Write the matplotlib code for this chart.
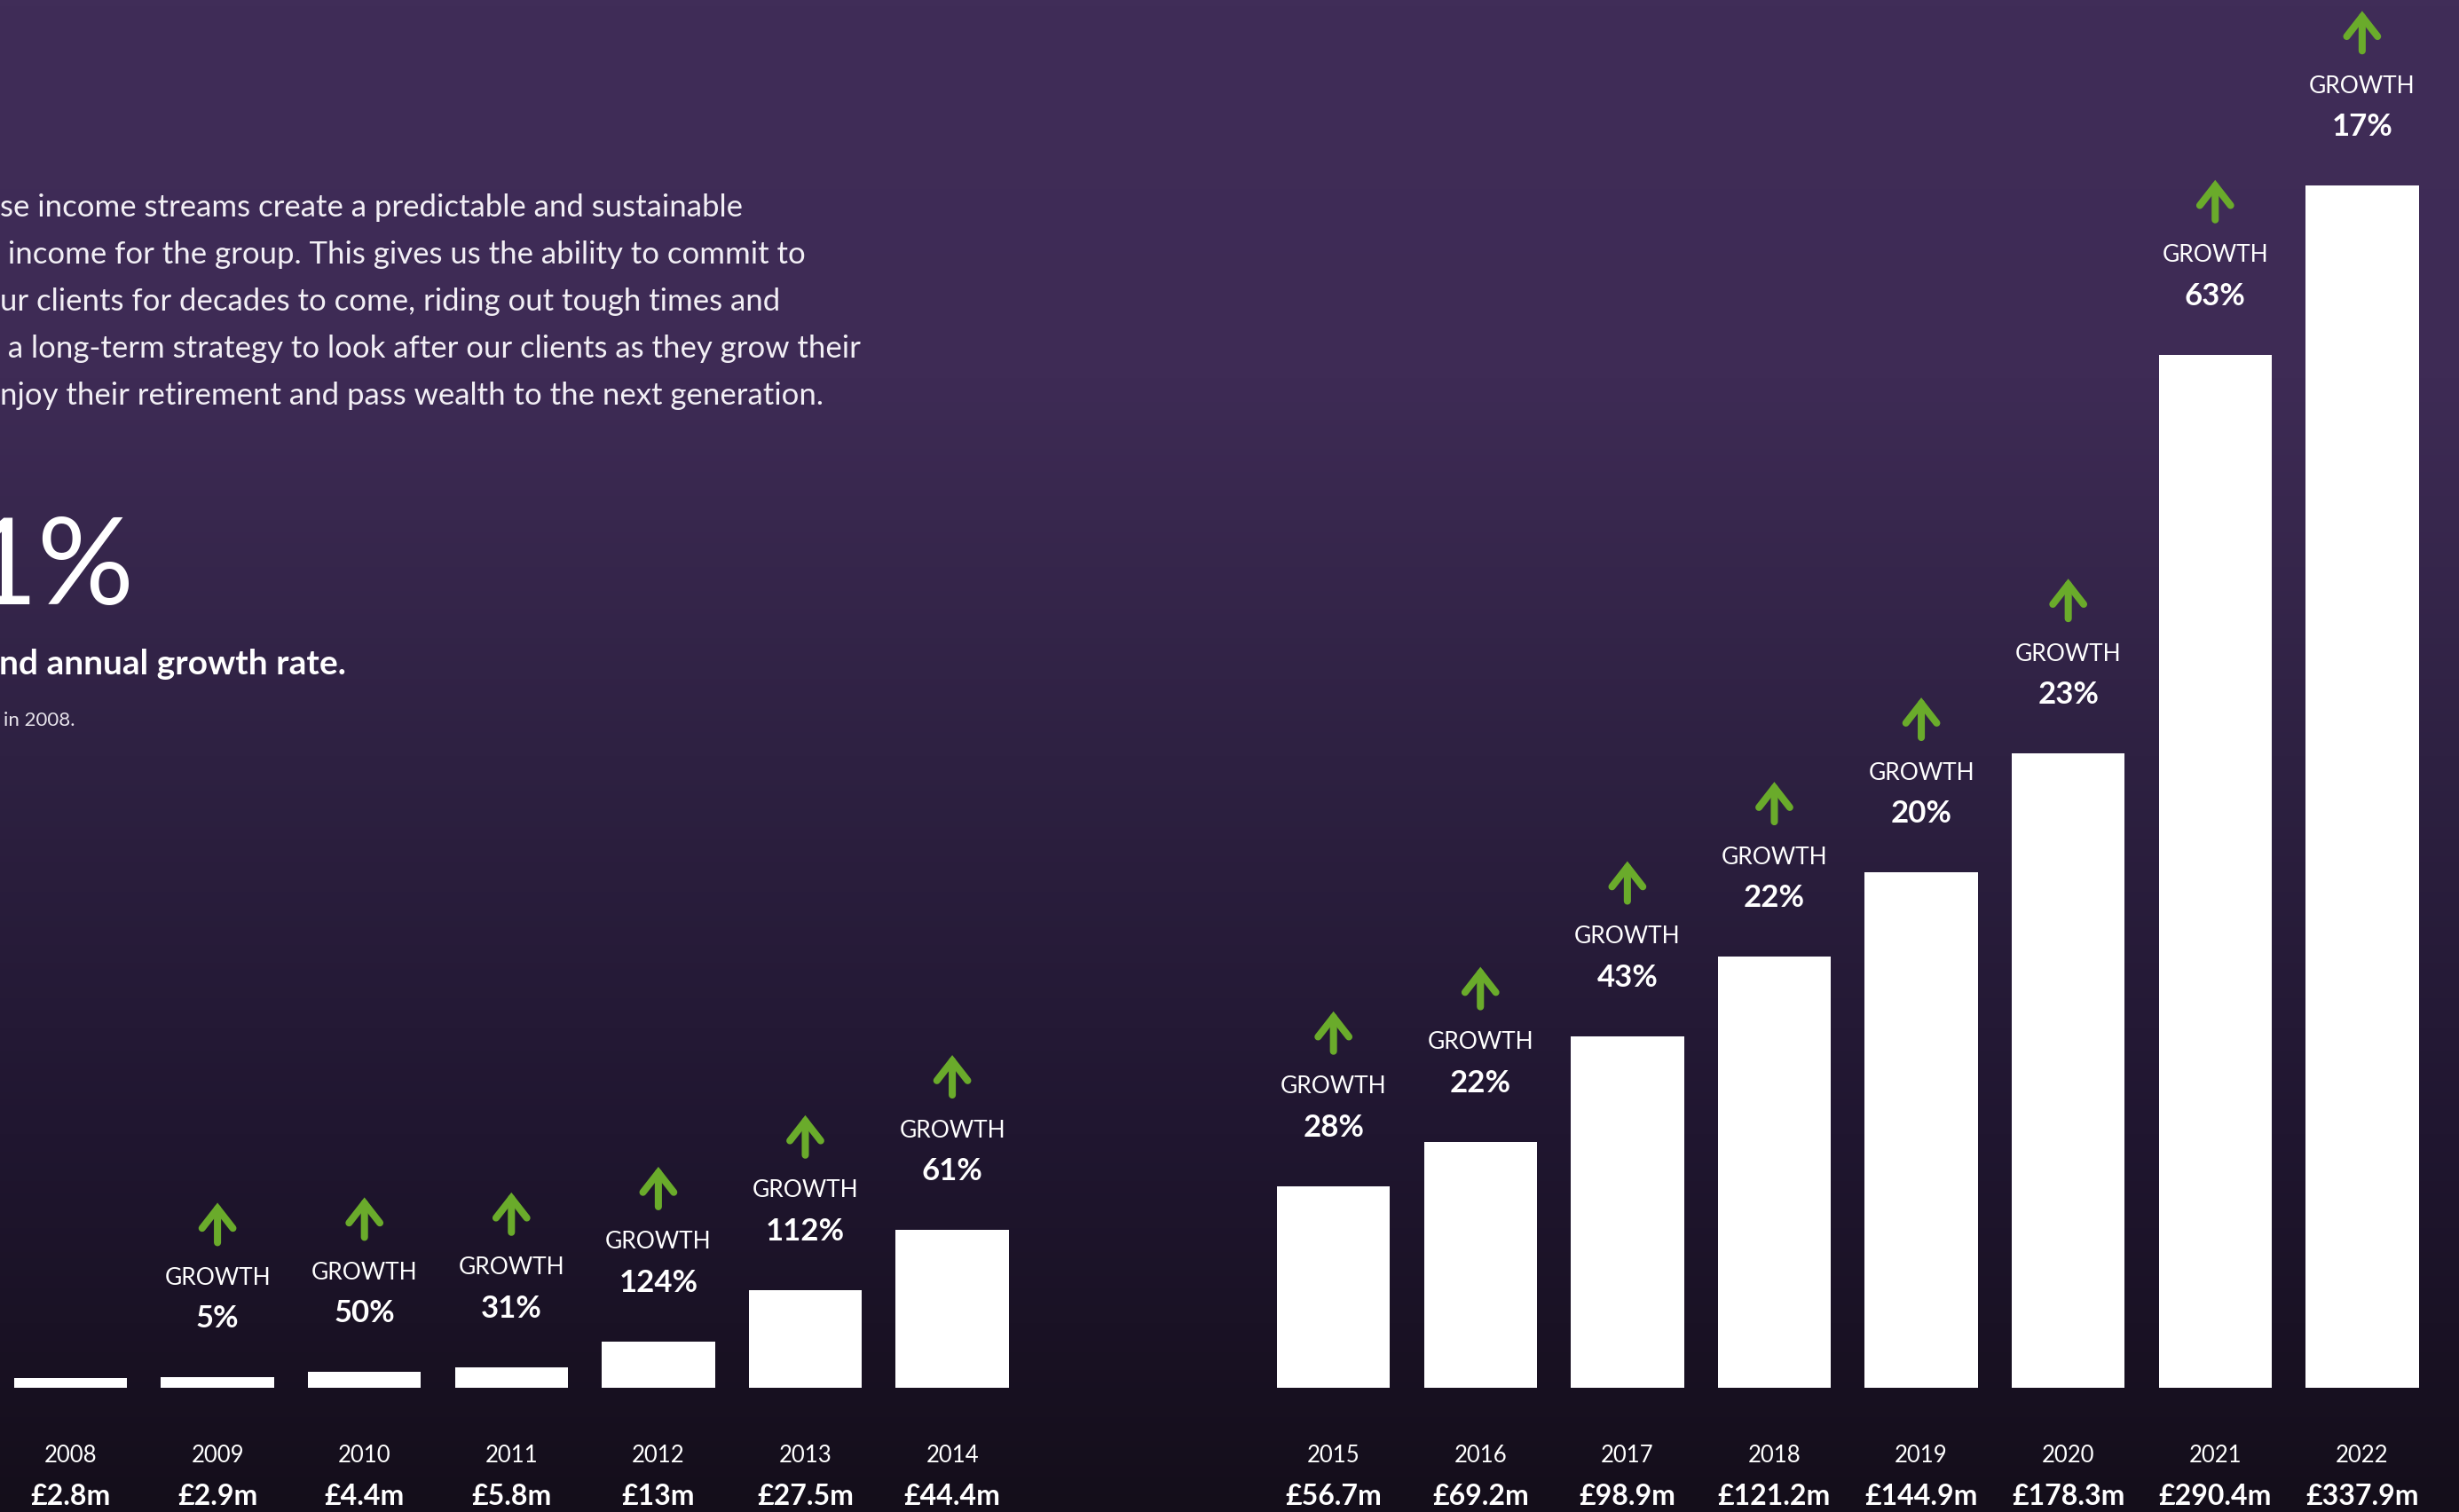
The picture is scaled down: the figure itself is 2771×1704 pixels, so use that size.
import numpy as np
import matplotlib
matplotlib.use("Agg")
import matplotlib.pyplot as plt
from matplotlib.colors import LinearSegmentedColormap
from matplotlib.transforms import offset_copy

# Recurring income by year (£m), growth on previous year
years = ["2008", "2009", "2010", "2011", "2012", "2013", "2014",
         "2015", "2016", "2017", "2018", "2019", "2020", "2021", "2022"]
income = [2.8, 2.9, 4.4, 5.8, 13, 27.5, 44.4,
          56.7, 69.2, 98.9, 121.2, 144.9, 178.3, 290.4, 337.9]
value_labels = ["£2.8m", "£2.9m", "£4.4m", "£5.8m", "£13m", "£27.5m", "£44.4m",
                "£56.7m", "£69.2m", "£98.9m", "£121.2m", "£144.9m", "£178.3m",
                "£290.4m", "£337.9m"]
growth = [None, "5%", "50%", "31%", "124%", "112%", "61%",
          "28%", "22%", "43%", "22%", "20%", "23%", "63%", "17%"]

intro_lines = [
    "se income streams create a predictable and sustainable",
    " income for the group. This gives us the ability to commit to",
    "ur clients for decades to come, riding out tough times and",
    " a long-term strategy to look after our clients as they grow their",
    "njoy their retirement and pass wealth to the next generation.",
]

W, H = 2771, 1704
FONT = "Lato"
GREEN = "#6aab2b"

fig = plt.figure(figsize=(W / 100, H / 100), dpi=100)

# background gradient
bg = fig.add_axes([0, 0, 1, 1])
cmap = LinearSegmentedColormap.from_list(
    "bg", [(0.0, "#402d58"), (0.25, "#3e2b55"), (0.5, "#2e2142"),
           (0.75, "#201630"), (1.0, "#140e1a")])
grad = np.linspace(0, 1, 256).reshape(-1, 1)
bg.imshow(grad, aspect="auto", cmap=cmap, extent=[0, 1, 0, 1])
bg.axis("off")

ax = fig.add_axes([0, 0, 1, 1])
ax.patch.set_alpha(0)
ax.axis("off")

# second group sits after a wider gap
pos = np.arange(len(years)) + np.where(np.arange(len(years)) >= 7, 1.594, 0)
ax.bar(pos, income, width=0.77, color="white")
ax.set_xlim(-0.48, 16.253)
ax.set_ylim(-34.9, 390.1)

for x, v, yr, lab, g in zip(pos, income, years, value_labels, growth):
    ax.text(x, 1 - 1640 / H, yr, transform=ax.get_xaxis_transform(),
            ha="center", va="center", color="white", fontsize=18.5, family=FONT)
    ax.text(x, 1 - 1686 / H, lab, transform=ax.get_xaxis_transform(),
            ha="center", va="center", color="white", fontsize=23,
            family=FONT, fontweight="bold")
    if g is None:
        continue
    ax.text(x, v, g, transform=offset_copy(ax.transData, y=66, units="dots"),
            ha="center", va="center", color="white", fontsize=25,
            family=FONT, fontweight="bold")
    ax.text(x, v, "GROWTH", transform=offset_copy(ax.transData, y=112, units="dots"),
            ha="center", va="center", color="white", fontsize=19, family=FONT)
    ax.annotate("", xy=(x, v), xycoords=offset_copy(ax.transData, y=197, units="dots"),
                xytext=(x, v), textcoords=offset_copy(ax.transData, y=152, units="dots"),
                arrowprops=dict(arrowstyle="->,head_length=1.6,head_width=1.25",
                                lw=5.8, color=GREEN, shrinkA=0, shrinkB=0,
                                joinstyle="miter"))

# left-hand copy, cut off at the figure edge
for i, line in enumerate(intro_lines):
    fig.text(0, 1 - (234 + 53 * i) / H, line, ha="left", va="center",
             color="#f2eff5", fontsize=25, family=FONT)

fig.text(152 / W, 1 - 642 / H, "1%", ha="right", va="center", color="white",
         fontsize=98, family=FONT)
fig.text(390 / W, 1 - 748 / H, "nd annual growth rate.", ha="right", va="center",
         color="white", fontsize=28, family=FONT, fontweight="bold")
fig.text(85 / W, 1 - 812 / H, "in 2008.", ha="right", va="center",
         color="#e8e4ec", fontsize=16, family=FONT)

fig.savefig("out.png", dpi=100)
